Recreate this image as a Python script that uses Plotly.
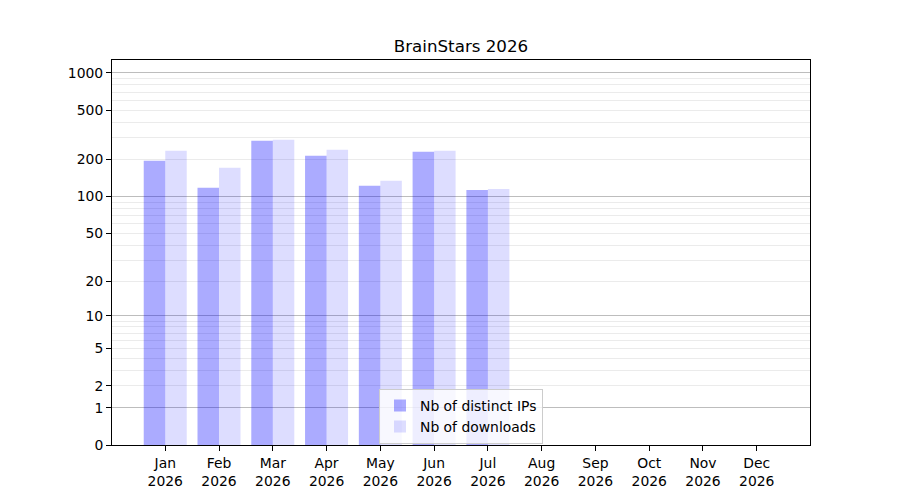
import numpy as np
import plotly.graph_objects as go

months = ["Jan", "Feb", "Mar", "Apr", "May", "Jun", "Jul", "Aug", "Sep", "Oct", "Nov", "Dec"]
year = "2026"
distinct_ips = [195, 118, 283, 214, 122, 231, 113, 0, 0, 0, 0, 0]
downloads = [235, 171, 289, 239, 134, 235, 115, 0, 0, 0, 0, 0]

decade_ticks = [0, 1, 10, 100, 1000]
other_ticks = [2, 5, 20, 50, 200, 500]
minor_grid = [2, 3, 4, 5, 6, 7, 8, 9, 20, 30, 40, 50, 60, 70, 80, 90,
              200, 300, 400, 500, 600, 700, 800, 900]


def f(v):
    return np.log10(1 + np.asarray(v, dtype=float))


cats = [f"{m}<br>{year}" for m in months]
font_family = "DejaVu Sans"
fs = 13.9

fig = go.Figure()
fig.add_trace(go.Bar(x=cats, y=f(distinct_ips), name="Nb of distinct IPs",
                     marker=dict(color="rgba(0,0,255,0.33)", line=dict(width=0))))
fig.add_trace(go.Bar(x=cats, y=f(downloads), name="Nb of downloads",
                     marker=dict(color="rgba(0,0,255,0.135)", line=dict(width=0))))
# invisible helper trace so the secondary label axis is drawn
fig.add_trace(go.Scatter(x=[cats[0]], y=[0], yaxis="y2", mode="markers",
                         marker=dict(opacity=0), showlegend=False, hoverinfo="skip"))

yrange = [0, 3.105]
fig.update_layout(
    width=900, height=500,
    margin=dict(l=104, r=98, t=52, b=63, pad=0),
    paper_bgcolor="white", plot_bgcolor="white",
    font=dict(family=font_family, size=fs, color="black"),
    barmode="group", bargap=0.2, bargroupgap=0,
    title=dict(text="BrainStars 2026", x=0.5, xref="paper", xanchor="center",
               y=1 - 38 / 500, yref="container", yanchor="middle",
               font=dict(size=16.7, family=font_family, color="black")),
    showlegend=True,
    legend=dict(x=0.5, y=0.003, xanchor="center", yanchor="bottom",
                bgcolor="rgba(255,255,255,0.8)", bordercolor="#cccccc", borderwidth=1,
                font=dict(size=fs, family=font_family), tracegroupgap=0),
    xaxis=dict(range=[-0.99, 11.99], showgrid=False, zeroline=False,
               showline=True, mirror=True, linecolor="black", linewidth=1,
               ticks="outside", ticklen=5, tickcolor="black", tickwidth=1),
    yaxis=dict(range=yrange, tickmode="array",
               tickvals=list(f(decade_ticks)), ticktext=[str(t) for t in decade_ticks],
               showgrid=True, gridcolor="#bdbdbd", gridwidth=1,
               zeroline=False, showline=True, mirror=True, linecolor="black", linewidth=1,
               ticks="outside", ticklen=5, tickcolor="black", tickwidth=1,
               minor=dict(tickmode="array", tickvals=list(f(minor_grid)), showgrid=True,
                          gridcolor="#ebebeb", gridwidth=1, ticks="")),
    yaxis2=dict(range=yrange, overlaying="y", side="left", anchor="x",
                tickmode="array", tickvals=list(f(other_ticks)),
                ticktext=[str(t) for t in other_ticks],
                showgrid=False, zeroline=False, showline=False,
                ticks="outside", ticklen=5, tickcolor="black", tickwidth=1),
)

fig.write_html("out.html")
